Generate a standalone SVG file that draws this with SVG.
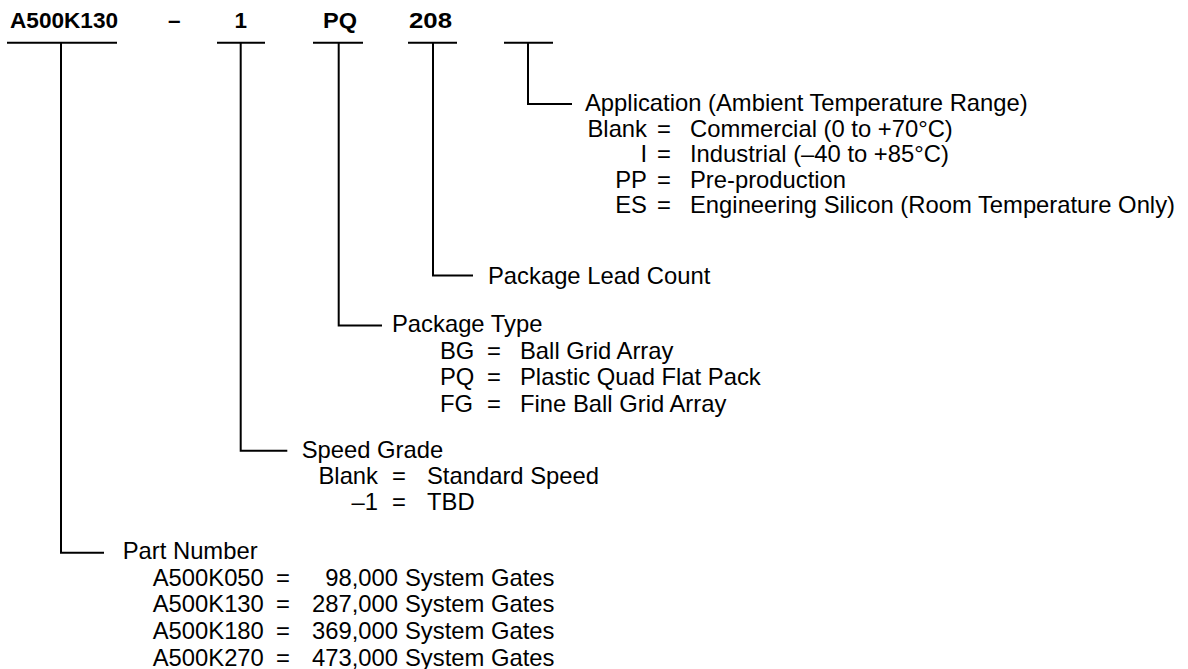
<svg xmlns="http://www.w3.org/2000/svg" width="1188" height="669" viewBox="0 0 1188 669">
<style>
.ln{stroke:#000;stroke-width:2;fill:none}
.hd{font-family:"Liberation Sans",Arial,sans-serif;font-weight:bold;font-size:22.5px;fill:#000}
.t{font-family:"Liberation Sans",Arial,sans-serif;font-size:23.8px;fill:#000}
.e{text-anchor:end}
</style>
<rect width="1188" height="669" fill="#fff"/>
<g id="header">
<text class="hd" x="10" y="28" textLength="108" lengthAdjust="spacingAndGlyphs">A500K130</text>
<text class="hd" x="168" y="28">–</text>
<text class="hd" x="234.5" y="28">1</text>
<text class="hd" x="323" y="28" textLength="34" lengthAdjust="spacingAndGlyphs">PQ</text>
<text class="hd" x="409" y="28" textLength="43" lengthAdjust="spacingAndGlyphs">208</text>
</g>
<g id="connectors">
<path class="ln" d="M7 42.7H117M217 42.7H265M313 42.7H363M408 42.7H457M504 42.7H553"/>
<path class="ln" d="M528 42.7V104H572"/>
<path class="ln" d="M433 42.7V275.5H473"/>
<path class="ln" d="M338.7 42.7V325.5H382"/>
<path class="ln" d="M240.7 42.7V450.7H287.3"/>
<path class="ln" d="M61 42.7V552.7H104"/>
</g>
<g id="application">
<text class="t" x="585" y="111">Application (Ambient Temperature Range)</text>
<text class="t e" x="647" y="136.6">Blank</text><text class="t" x="657" y="136.6">=</text><text class="t" x="690" y="136.6">Commercial (0 to +70°C)</text>
<text class="t e" x="647" y="162.2">I</text><text class="t" x="657" y="162.2">=</text><text class="t" x="690" y="162.2">Industrial (–40 to +85°C)</text>
<text class="t e" x="647" y="187.8">PP</text><text class="t" x="657" y="187.8">=</text><text class="t" x="690" y="187.8">Pre-production</text>
<text class="t e" x="647" y="213.4">ES</text><text class="t" x="657" y="213.4">=</text><text class="t" x="690" y="213.4">Engineering Silicon (Room Temperature Only)</text>
</g>
<g id="lead-count">
<text class="t" x="488" y="283.5">Package Lead Count</text>
</g>
<g id="package-type">
<text class="t" x="392" y="332">Package Type</text>
<text class="t" x="440" y="358.5">BG</text><text class="t" x="487" y="358.5">=</text><text class="t" x="520" y="358.5">Ball Grid Array</text>
<text class="t" x="440" y="385.2">PQ</text><text class="t" x="487" y="385.2">=</text><text class="t" x="520" y="385.2">Plastic Quad Flat Pack</text>
<text class="t" x="440" y="411.9">FG</text><text class="t" x="487" y="411.9">=</text><text class="t" x="520" y="411.9">Fine Ball Grid Array</text>
</g>
<g id="speed-grade">
<text class="t" x="301.7" y="457.5">Speed Grade</text>
<text class="t e" x="378" y="484">Blank</text><text class="t" x="392" y="484">=</text><text class="t" x="427" y="484">Standard Speed</text>
<text class="t e" x="378" y="510">–1</text><text class="t" x="392" y="510">=</text><text class="t" x="427" y="510">TBD</text>
</g>
<g id="part-number">
<text class="t" x="122.7" y="559">Part Number</text>
<text class="t" x="152.7" y="585.7">A500K050</text><text class="t" x="276" y="585.7">=</text><text class="t e" x="398" y="585.7">98,000</text><text class="t" x="405" y="585.7">System Gates</text>
<text class="t" x="152.7" y="612.4">A500K130</text><text class="t" x="276" y="612.4">=</text><text class="t e" x="398" y="612.4">287,000</text><text class="t" x="405" y="612.4">System Gates</text>
<text class="t" x="152.7" y="639.1">A500K180</text><text class="t" x="276" y="639.1">=</text><text class="t e" x="398" y="639.1">369,000</text><text class="t" x="405" y="639.1">System Gates</text>
<text class="t" x="152.7" y="665.8">A500K270</text><text class="t" x="276" y="665.8">=</text><text class="t e" x="398" y="665.8">473,000</text><text class="t" x="405" y="665.8">System Gates</text>
</g>
</svg>
